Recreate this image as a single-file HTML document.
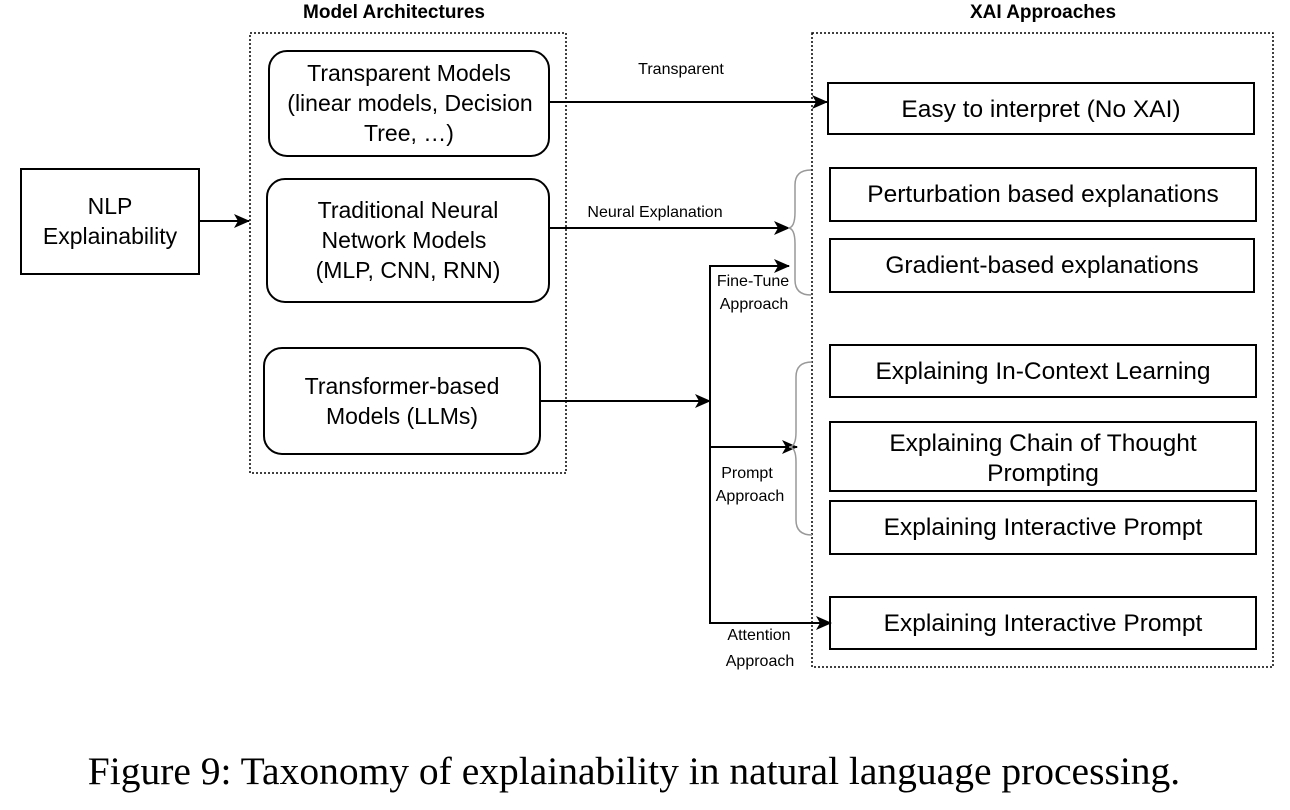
<!DOCTYPE html>
<html><head><meta charset="utf-8"><style>body{margin:0;background:#fff}</style></head><body>
<svg width="1290" height="805" viewBox="0 0 1290 805" xmlns="http://www.w3.org/2000/svg" font-family="Liberation Sans, sans-serif">
<defs><marker id="a" markerWidth="16" markerHeight="14" refX="15" refY="7" orient="auto" markerUnits="userSpaceOnUse"><path d="M0,0 L16,7 L0,14 L4,7 Z" fill="#000"/></marker></defs>
<g fill="none" stroke="#000" stroke-width="1.5" stroke-dasharray="2,2">
<rect x="250" y="33" width="316" height="440"/>
<rect x="812" y="33" width="461" height="634"/>
</g>
<text x="394" y="18" font-size="19" font-weight="bold" text-anchor="middle">Model Architectures</text>
<text x="1043" y="18" font-size="19" font-weight="bold" text-anchor="middle">XAI Approaches</text>
<g fill="#fff" stroke="#000" stroke-width="2">
<rect x="21" y="169" width="178" height="105"/>
<rect x="269" y="51" width="280" height="105" rx="18"/>
<rect x="267" y="179" width="282" height="123" rx="18"/>
<rect x="264" y="348" width="276" height="106" rx="18"/>
<rect x="828" y="83" width="426" height="51"/>
<rect x="830" y="168" width="426" height="53"/>
<rect x="830" y="239" width="424" height="53"/>
<rect x="830" y="345" width="426" height="52"/>
<rect x="830" y="422" width="426" height="69"/>
<rect x="830" y="501" width="426" height="53"/>
<rect x="830" y="597" width="426" height="52"/>
</g>
<g font-size="23" text-anchor="middle">
<text x="110" y="214">NLP</text><text x="110" y="244">Explainability</text>
<text x="409" y="81">Transparent Models</text><text x="410" y="111">(linear models, Decision</text><text x="409" y="141">Tree, …)</text>
<text x="408" y="218">Traditional Neural</text><text x="404" y="248">Network Models</text><text x="408" y="278">(MLP, CNN, RNN)</text>
<text x="402" y="394">Transformer-based</text><text x="402" y="424">Models (LLMs)</text>
</g>
<g font-size="24.5" text-anchor="middle">
<text x="1041" y="117">Easy to interpret (No XAI)</text>
<text x="1043" y="202">Perturbation based explanations</text>
<text x="1042" y="273">Gradient-based explanations</text>
<text x="1043" y="379">Explaining In-Context Learning</text>
<text x="1043" y="451">Explaining Chain of Thought</text><text x="1043" y="481">Prompting</text>
<text x="1043" y="535">Explaining Interactive Prompt</text>
<text x="1043" y="631">Explaining Interactive Prompt</text>
</g>
<g stroke="#000" stroke-width="2" fill="none">
<line x1="199" y1="221" x2="249" y2="221" marker-end="url(#a)"/>
<line x1="549" y1="102" x2="827" y2="102" marker-end="url(#a)"/>
<line x1="549" y1="228" x2="789" y2="228" marker-end="url(#a)"/>
<line x1="540" y1="401" x2="710" y2="401" marker-end="url(#a)"/>
<polyline points="789,266 710,266 710,623 831,623" marker-end="url(#a)"/>
<line x1="710" y1="266" x2="789" y2="266" marker-end="url(#a)"/>
<line x1="710" y1="447" x2="797" y2="447" marker-end="url(#a)"/>
</g>
<g stroke="#999" stroke-width="1.5" fill="none">
<path d="M811,170 Q795,170 795,185 L795,212 Q795,228 788,228 Q795,228 795,244 L795,280 Q795,295 811,295"/>
<path d="M812,362 Q796,362 796,377 L796,432 Q796,447 789,447 Q796,447 796,462 L796,520 Q796,535 812,535"/>
</g>
<g font-size="16" text-anchor="middle">
<text x="681" y="74">Transparent</text>
<text x="655" y="217">Neural Explanation</text>
<text x="753" y="286">Fine-Tune</text><text x="754" y="309">Approach</text>
<text x="747" y="478">Prompt</text><text x="750" y="501">Approach</text>
<text x="759" y="640">Attention</text><text x="760" y="666">Approach</text>
</g>
<text x="634" y="784" font-family="Liberation Serif, serif" font-size="39.5" text-anchor="middle">Figure 9: Taxonomy of explainability in natural language processing.</text>
</svg>
</body></html>
